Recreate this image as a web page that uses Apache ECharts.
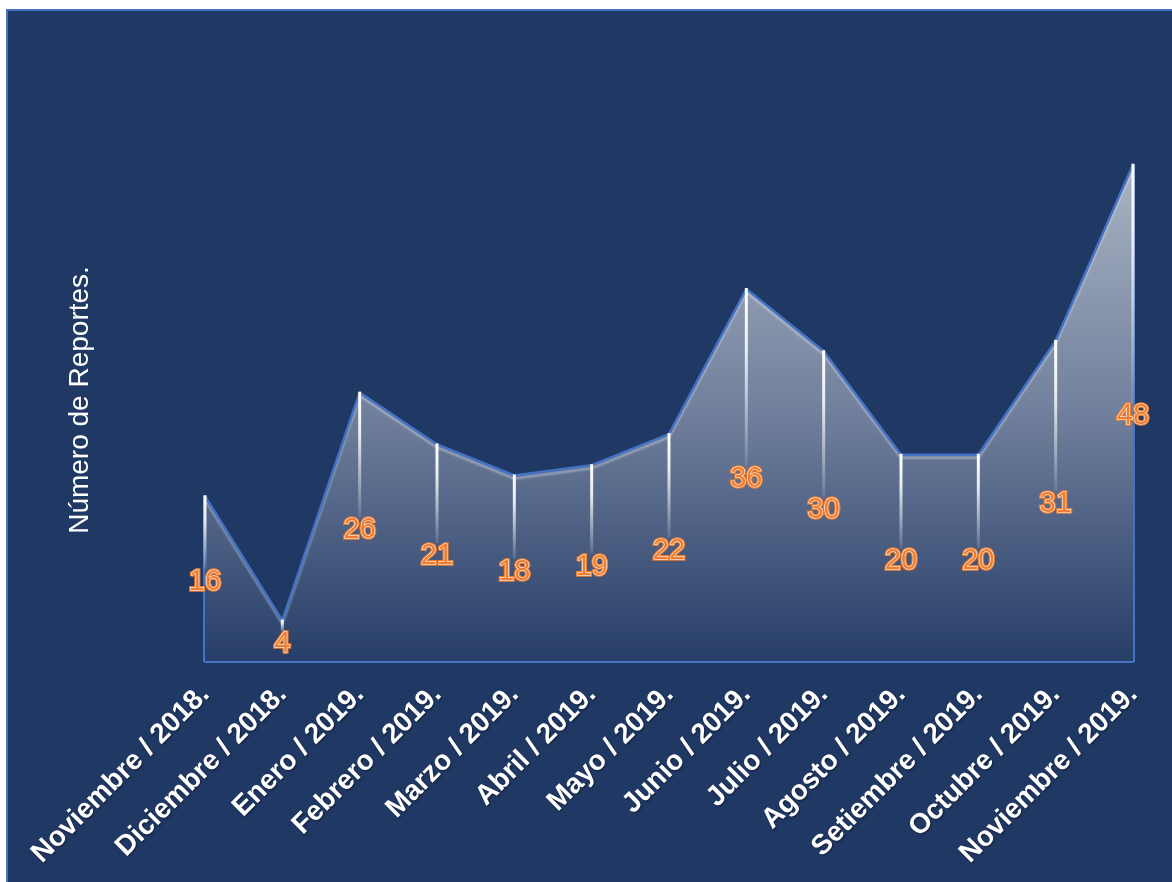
<!DOCTYPE html>
<html>
<head>
<meta charset="utf-8">
<script src="https://cdn.jsdelivr.net/npm/echarts@6/dist/echarts.min.js"></script>
<style>
  html, body { margin: 0; padding: 0; background: #ffffff; }
  #frame {
    position: absolute; left: 6px; top: 9px; right: 0; bottom: 0;
    background: #203864;
    border-left: 2px solid #4472C4; border-top: 2px solid #4472C4;
  }
  #chart { position: absolute; left: 0; top: 0; width: 1172px; height: 882px; }
</style>
</head>
<body>
<div id="frame"></div>
<div id="chart"></div>
<script>
// Monthly report counts, Nov 2018 – Nov 2019
const months = [
  'Noviembre / 2018.', 'Diciembre / 2018.', 'Enero / 2019.', 'Febrero / 2019.',
  'Marzo / 2019.', 'Abril / 2019.', 'Mayo / 2019.', 'Junio / 2019.',
  'Julio / 2019.', 'Agosto / 2019.', 'Setiembre / 2019.', 'Octubre / 2019.',
  'Noviembre / 2019.'
];
const reports = [16, 4, 26, 21, 18, 19, 22, 36, 30, 20, 20, 31, 48];
const yTitle = 'Número de Reportes.';

const FONT = '"Liberation Sans", Arial, sans-serif';
const ORANGE = '#ED7D31';
const EDGE = '#4472C4';
const last = reports.length - 1;

const chart = echarts.init(document.getElementById('chart'), null, { renderer: 'canvas' });

// Drop line from each point down to half its height, where the value label sits.
function renderDrop(params, api) {
  const idx = params.dataIndex;
  const v = api.value(1);
  const top = api.coord([idx, v]);
  const mid = api.coord([idx, v / 2]);
  const base = api.coord([idx, 0]);
  const children = [];
  if (idx === 0 || idx === last) {
    const dx = idx === 0 ? -1 : 1;
    children.push({
      type: 'line',
      shape: { x1: top[0] + dx, y1: top[1], x2: base[0] + dx, y2: base[1] },
      style: { stroke: EDGE, lineWidth: 2 }
    });
  }
  children.push({
    type: 'line',
    shape: { x1: top[0], y1: top[1] - 1, x2: mid[0], y2: mid[1] - 10 },
    style: {
      lineWidth: 3,
      stroke: new echarts.graphic.LinearGradient(0, 0, 0, 1, [
        { offset: 0, color: 'rgba(255,255,255,1)' },
        { offset: 0.35, color: 'rgba(255,255,255,0.85)' },
        { offset: 1, color: 'rgba(255,255,255,0.08)' }
      ], false)
    }
  });
  const txt = String(v);
  const common = {
    x: mid[0], y: mid[1] + 3, text: txt,
    font: '29px ' + FONT, align: 'center', verticalAlign: 'middle'
  };
  children.push({
    type: 'text',
    style: Object.assign({}, common, { fill: ORANGE, stroke: ORANGE, lineWidth: 3.5 })
  });
  children.push({
    type: 'text',
    style: Object.assign({}, common, { fill: ORANGE, stroke: '#ffffff', lineWidth: 1 })
  });
  return { type: 'group', children };
}

chart.setOption({
  backgroundColor: 'transparent',
  animation: false,
  grid: { left: 205, right: 39, top: 144, bottom: 220 },
  xAxis: {
    type: 'category',
    data: months,
    boundaryGap: false,
    axisLine: { show: true, lineStyle: { color: EDGE, width: 2 } },
    axisTick: { show: false },
    splitLine: { show: false },
    axisLabel: {
      rotate: 45,
      margin: 28,
      interval: 0,
      color: '#ffffff',
      fontFamily: FONT,
      fontWeight: 'bold',
      fontSize: 28,
      textShadowColor: 'rgba(0,0,0,0.45)',
      textShadowBlur: 2,
      textShadowOffsetX: 1,
      textShadowOffsetY: 1
    }
  },
  yAxis: {
    type: 'value',
    min: 0,
    max: 50,
    show: false,
    splitLine: { show: false }
  },
  graphic: [{
    type: 'text',
    rotation: Math.PI / 2,
    x: 80,
    y: 400,
    style: {
      text: yTitle,
      font: '28px ' + FONT,
      fill: '#ffffff',
      align: 'center',
      verticalAlign: 'middle'
    }
  }],
  series: [
    {
      type: 'line',
      data: reports,
      symbol: 'none',
      z: 2,
      lineStyle: {
        color: EDGE,
        width: 2.5,
        shadowColor: 'rgba(255,255,255,0.35)',
        shadowBlur: 2,
        shadowOffsetY: 3
      },
      areaStyle: {
        opacity: 1,
        color: new echarts.graphic.LinearGradient(0, 0, 0, 1, [
          { offset: 0, color: 'rgba(255,255,255,0.62)' },
          { offset: 0.5, color: 'rgba(255,255,255,0.36)' },
          { offset: 1, color: 'rgba(255,255,255,0.03)' }
        ])
      }
    },
    {
      type: 'custom',
      data: reports.map((v, i) => [i, v]),
      renderItem: renderDrop,
      z: 5,
      silent: true
    }
  ]
});
</script>
</body>
</html>
